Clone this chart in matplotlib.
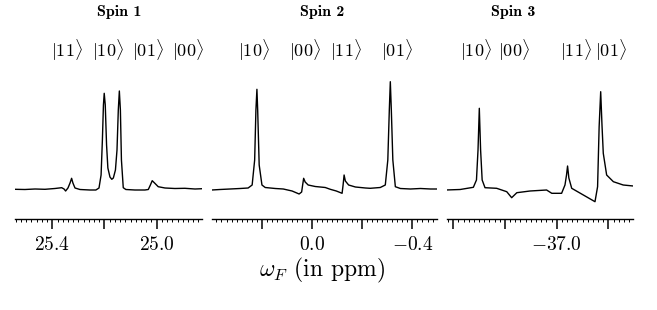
import numpy as np
import matplotlib
matplotlib.use("Agg")
import matplotlib.pyplot as plt
from matplotlib.ticker import MultipleLocator, FuncFormatter

# spectra (ppm, intensity arb. units)
spin1_ppm = [25.543, 25.505, 25.466, 25.428, 25.390, 25.364, 25.355, 25.349, 25.340, 25.332,
             25.326, 25.321, 25.313, 25.294, 25.256, 25.233, 25.221, 25.213, 25.208, 25.204,
             25.201, 25.197, 25.192, 25.187, 25.179, 25.172, 25.166, 25.158, 25.152, 25.147,
             25.143, 25.139, 25.135, 25.128, 25.118, 25.083, 25.045, 25.032, 25.024, 25.017,
             25.008, 24.994, 24.968, 24.930, 24.892, 24.853, 24.825]
spin1_int = [0.7, 0.5, 1, 0.7, 1.5, 2.3, 1, -1, 2, 7,
             11.7, 7, 2, 0.5, 0, 0, 2, 15, 50, 85,
             96.7, 85, 45, 22, 13, 10.7, 12, 20, 40, 80,
             99, 80, 30, 2.3, 0.5, 0, 0, 0.5, 5, 9.3,
             7, 3.3, 2, 1.5, 1.7, 1, 1.3]

spin2_ppm = [0.399, 0.366, 0.326, 0.286, 0.254, 0.238, 0.228, 0.223, 0.219, 0.216,
             0.210, 0.199, 0.186, 0.146, 0.114, 0.079, 0.051, 0.041, 0.037, 0.033,
             0.027, 0.015, -0.013, -0.053, -0.073, -0.097, -0.120, -0.124, -0.128, -0.133,
             -0.146, -0.173, -0.213, -0.232, -0.272, -0.292, -0.302, -0.308, -0.312, -0.316,
             -0.322, -0.332, -0.352, -0.392, -0.432, -0.472, -0.498]
spin2_int = [0, 0.5, 1, 1.5, 2, 5, 30, 80, 100.7, 80,
             25, 5, 2.5, 1.5, 1, -1, -4, -2, 5, 11.7,
             8, 5, 3.5, 2.5, 0.7, -1, -3.3, 5, 15, 9,
             5, 3, 2, 1.7, 2.5, 5, 30, 80, 108.3, 80,
             30, 3.3, 1.5, 1, 1.5, 1, 1]

spin3_ppm = [-36.571, -36.627, -36.678, -36.690, -36.696, -36.701, -36.706, -36.712, -36.723, -36.768,
             -36.807, -36.826, -36.846, -36.897, -36.961, -36.981, -37.019, -37.032, -37.038, -37.042,
             -37.047, -37.058, -37.103, -37.148, -37.158, -37.164, -37.170, -37.175, -37.180, -37.193,
             -37.219, -37.257, -37.296]
spin3_int = [0, 0.5, 2.7, 10, 40, 81.7, 40, 10, 2.3, 1.7,
             -1.7, -7.7, -2.7, -1, 0, -3.3, -3.3, 5, 15, 24,
             12, 1.7, -5, -11.7, 3.3, 63.3, 98.3, 65, 36.7, 15,
             8.3, 5, 4]

titles = ["Spin 1", "Spin 2", "Spin 3"]
kets = [["11", "10", "01", "00"], ["10", "00", "11", "01"], ["10", "00", "11", "01"]]
ket_ppm = [[25.343, 25.186, 25.033, 24.879], [0.232, 0.030, -0.137, -0.337], [-36.686, -36.833, -37.076, -37.211]]
title_ppm = [25.143, -0.04, -36.83]
xlims = [(25.543, 24.825), (0.399, -0.499), (-36.575, -37.296)]
tick_vals = [[25.4, 25.0], [0.0, -0.4], [-37.0]]

plt.rcParams["font.family"] = "serif"
plt.rcParams["font.serif"] = ["cmr10"]
plt.rcParams["mathtext.fontset"] = "cm"

fig = plt.figure(figsize=(6.57, 3.10), dpi=100)
W, H = 657.0, 310.0
boxes = [(15, 187.3), (211.7, 225.6), (446.7, 186.6)]
data = [(spin1_ppm, spin1_int), (spin2_ppm, spin2_int), (spin3_ppm, spin3_int)]


def make_fmt(labelled):
    def fmt(v, pos):
        for t in labelled:
            if abs(v - t) < 1e-6:
                return "$%.1f$" % t
        return ""
    return FuncFormatter(fmt)


for k in range(3):
    x0, w = boxes[k]
    ax = fig.add_axes([x0 / W, 1 - 219 / H, w / W, (219 - 75) / H])
    ax.plot(data[k][0], data[k][1], color="black", lw=1.0)
    ax.set_xlim(*xlims[k])
    ax.set_ylim(-29, 115)
    for s in ["left", "right", "top"]:
        ax.spines[s].set_visible(False)
    ax.spines["bottom"].set_linewidth(1.0)
    ax.set_yticks([])
    ax.xaxis.set_major_locator(MultipleLocator(0.2))
    ax.xaxis.set_minor_locator(MultipleLocator(0.02))
    ax.xaxis.set_major_formatter(make_fmt(tick_vals[k]))
    ax.tick_params(axis="x", which="major", length=7, width=1.1, pad=5, labelsize=14)
    ax.tick_params(axis="x", which="minor", length=2.2, width=0.7)
    for lab, p in zip(kets[k], ket_ppm[k]):
        ax.text(p, 1 + (75 - 50) / 144.0, r"$|\mathbf{%s}\rangle$" % lab,
                transform=ax.get_xaxis_transform(), ha="center", va="center", fontsize=13)
    ax.text(title_ppm[k], 1 + (75 - 12) / 144.0, titles[k], transform=ax.get_xaxis_transform(),
            ha="center", va="center", fontsize=11.5, family="cmb10")

fig.text(322 / W, 1 - 270 / H, r"$\omega_F$ (in ppm)", ha="center", va="center", fontsize=17)

fig.savefig("out.png", dpi=100)
